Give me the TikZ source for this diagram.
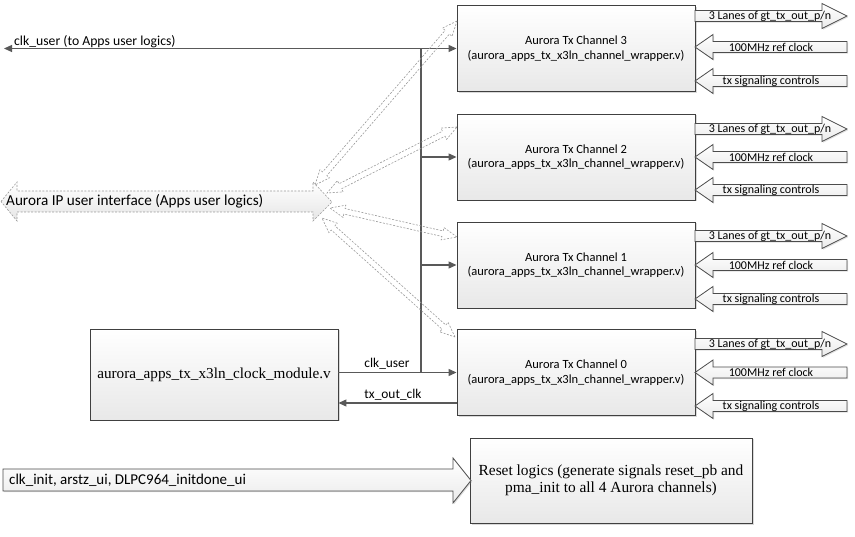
\documentclass[tikz,border=0pt]{standalone}
\usepackage{fontspec}
\setmainfont{Carlito}
\newfontfamily\serifF{Liberation Serif}
\usetikzlibrary{arrows.meta,shapes.arrows,shadows,calc}
\tikzset{
 box/.style={draw=black!75, line width=0.9pt, top color=white, bottom color=black!9,
   drop shadow={shadow xshift=1.5pt,shadow yshift=-1.5pt,opacity=0.3},
   inner sep=2pt, align=center, font=\fontsize{12.5}{14.5}\selectfont},
 conn/.style={draw=black!65, line width=1.2pt},
 tipend/.style={-{Triangle[length=8pt,width=7pt]}},
 blk/.style={draw=black!70, line width=0.8pt, top color=white, bottom color=black!8,
   drop shadow={shadow xshift=1.2pt,shadow yshift=-1.2pt,opacity=0.25}},
 blktext/.style={font=\fontsize{12}{12}\selectfont, inner sep=0pt},
 dsh/.style={draw=black!40, dash pattern=on 2pt off 1.5pt, line width=0.6pt},
 thinarrow/.style={dsh, double arrow, inner xsep=0pt, inner ysep=2.5pt,
   double arrow head extend=3.5pt, double arrow tip angle=46},
 lbl/.style={font=\fontsize{13.4}{14}\selectfont, inner sep=0pt}
}
\newcommand\rblk[3]{%
 \draw[blk] (695,#1-5.5) -- (822,#1-5.5) -- (822,#1-12.5) -- (847,#1) -- (822,#1+12.5) -- (822,#1+5.5) -- (695,#1+5.5) -- cycle;
 \node[blktext] (#3) at (770,#1) {#2};}
\newcommand\lblk[3]{%
 \draw[blk] (695,#1) -- (713,#1-12.5) -- (713,#1-5.5) -- (847,#1-5.5) -- (847,#1+5.5) -- (713,#1+5.5) -- (713,#1+12.5) -- cycle;
 \node[blktext] (#3) at (771,#1) {#2};}
\newcommand\thinarr[3]{%
 \path let \p1=($(#2)-(#1)$), \n1={atan2(\y1,\x1)}, \n2={veclen(\x1,\y1)} in
   node[thinarrow, rotate=\n1, minimum height=\n2] (#3) at ($(#1)!0.5!(#2)$) {};}
\begin{document}
\begin{tikzpicture}[x=1pt,y=-1pt]
\useasboundingbox (0,0) rectangle (855,537);

% channel boxes
\node[box, minimum width=238, minimum height=86] (ch3) at (576,48.5) {Aurora Tx Channel 3\\(aurora\_apps\_tx\_x3ln\_channel\_wrapper.v)};
\node[box, minimum width=238, minimum height=86] (ch2) at (576,157) {Aurora Tx Channel 2\\(aurora\_apps\_tx\_x3ln\_channel\_wrapper.v)};
\node[box, minimum width=238, minimum height=86] (ch1) at (576,265) {Aurora Tx Channel 1\\(aurora\_apps\_tx\_x3ln\_channel\_wrapper.v)};
\node[box, minimum width=238, minimum height=86] (ch0) at (576,372.5) {Aurora Tx Channel 0\\(aurora\_apps\_tx\_x3ln\_channel\_wrapper.v)};

\node[box, minimum width=248, minimum height=91, font=\serifF\fontsize{15.2}{17}\selectfont] (clk) at (214,374.5) {aurora\_apps\_tx\_x3ln\_clock\_module.v};
\node[box, minimum width=282, minimum height=85, font=\serifF\fontsize{15.4}{16.5}\selectfont] (reset) at (611,480.5) {Reset logics (generate signals reset\_pb and\\pma\_init to all 4 Aurora channels)};

% right-side block arrows
\rblk{16}{3 Lanes of gt\_tx\_out\_p/n}{lane3}
\lblk{47}{100MHz ref clock}{ref3}
\lblk{81}{tx signaling controls}{txs3}
\rblk{129}{3 Lanes of gt\_tx\_out\_p/n}{lane2}
\lblk{157}{100MHz ref clock}{ref2}
\lblk{190}{tx signaling controls}{txs2}
\rblk{236}{3 Lanes of gt\_tx\_out\_p/n}{lane1}
\lblk{265}{100MHz ref clock}{ref1}
\lblk{299}{tx signaling controls}{txs1}
\rblk{344}{3 Lanes of gt\_tx\_out\_p/n}{lane0}
\lblk{372.5}{100MHz ref clock}{ref0}
\lblk{406}{tx signaling controls}{txs0}

% big user interface arrow
\draw[dsh, top color=white, bottom color=black!10] (1,201.5) -- (17,182) -- (17,191) -- (313,191) -- (313,182) -- (332,202) -- (313,221) -- (313,212) -- (17,212) -- (17,221) -- cycle;
\node[font=\fontsize{15.2}{16}\selectfont, anchor=west, inner sep=0pt] (ui) at (6,201.5) {Aurora IP user interface (Apps user logics)};

% reset input arrow
\draw[blk] (3,469) -- (453,469) -- (453,458) -- (471,480.5) -- (453,503) -- (453,491) -- (3,491) -- cycle;
\node[font=\fontsize{15}{16}\selectfont, anchor=west, inner sep=0pt] (rin) at (9,480) {clk\_init, arstz\_ui, DLPC964\_initdone\_ui};

% clk_user distribution
\coordinate (cuL) at (4,0);
\coordinate (bus) at (421,0);
\draw[conn, {Triangle[length=8pt,width=7pt]}-{Triangle[length=8pt,width=7pt]}] (cuL |- ch3.west) -- (ch3.west);
\node[lbl, anchor=base west, font=\fontsize{13.7}{14}\selectfont] (culbl) at (14,46) {clk\_user (to Apps user logics)};
\draw[conn] (bus |- ch3.west) -- (bus |- ch0.west);
\draw[conn, tipend] (bus |- ch2.west) -- (ch2.west);
\draw[conn, tipend] (bus |- ch1.west) -- (ch1.west);
\draw[conn, tipend] (clk.east |- ch0.west) -- (ch0.west);
\node[lbl, anchor=base] (cu0) at (387,368) {clk\_user};
\coordinate (tx0) at (457,403);
\draw[conn, tipend] (tx0) -- (tx0 -| clk.east);
\node[lbl, anchor=base] (txo) at (393,399) {tx\_out\_clk};

% thin dashed double arrows
\coordinate (u3) at (315,185); \coordinate (c3) at (457,21);
\coordinate (u2) at (327,193); \coordinate (c2) at (457,127);
\coordinate (u1) at (330,208); \coordinate (c1) at (457,237);
\coordinate (u0) at (322,218); \coordinate (c0) at (455,337);
\thinarr{u3}{c3}{da3}
\thinarr{u2}{c2}{da2}
\thinarr{u1}{c1}{da1}
\thinarr{u0}{c0}{da0}
\end{tikzpicture}
\end{document}
